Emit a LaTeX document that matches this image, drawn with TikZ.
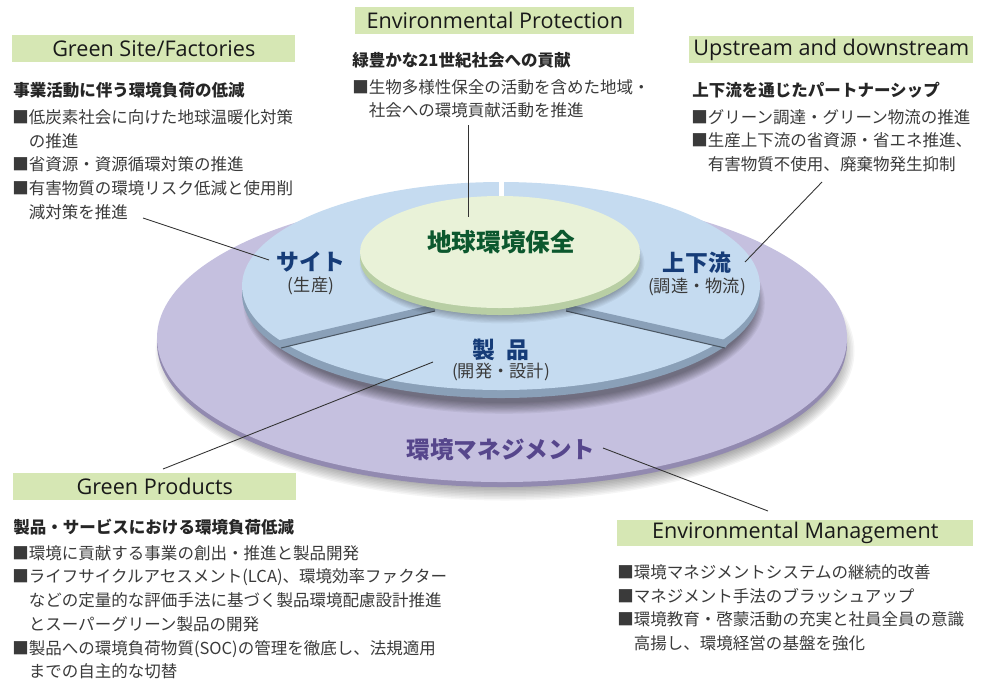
\documentclass[tikz,border=0pt]{standalone}
\usepackage{fontspec}
\setmainfont{Noto Sans CJK JP}
\newfontfamily\enfont{Open Sans}
\definecolor{headgreen}{RGB}{214,231,180}
\definecolor{mgmttop}{RGB}{197,192,223}
\definecolor{mgmtside}{RGB}{146,138,176}
\definecolor{ringtop}{RGB}{197,219,240}
\definecolor{ringside}{RGB}{138,160,184}
\definecolor{coretop}{RGB}{233,242,216}
\definecolor{coreside}{RGB}{184,206,164}
\definecolor{navytext}{RGB}{22,60,120}
\definecolor{greentext}{RGB}{12,88,46}
\definecolor{purpletext}{RGB}{86,70,140}
\definecolor{bodygray}{RGB}{58,58,58}

\begin{document}
\begin{tikzpicture}[x=0.02cm,y=-0.02cm,
  headbox/.style={fill=headgreen,inner sep=0pt,minimum height=0.54cm,anchor=north west,font=\enfont\fontsize{12.3}{14}\selectfont,text=black!90},
  lead/.style={font=\bfseries\fontsize{9.4}{12}\selectfont,anchor=west,inner sep=0pt,text=black!85},
  items/.style={font=\fontsize{9.4}{13.5}\selectfont,align=left,anchor=north west,inner sep=0pt,text=bodygray},
  disklabel/.style={font=\bfseries\fontsize{13}{15}\selectfont,text=navytext,inner sep=0pt},
  disksub/.style={font=\fontsize{9.8}{11}\selectfont,text=bodygray,inner sep=0pt},
  leader/.style={black!80,line width=0.5pt}]
  \useasboundingbox (0,0) rectangle (983,684);

  % management disk: shadow, side, top
  \foreach \s in {0,...,9}
    \fill[black,opacity=0.04] (505,351) ellipse [x radius=336+\s*1.5, y radius=136+\s*1.5];
  \fill[mgmtside] (502,343) ellipse [x radius=345, y radius=144];
  \fill[mgmttop]  (502,338) ellipse [x radius=345, y radius=144];

  % ring of three segments
  \foreach \s in {0,...,9}
    \fill[black,opacity=0.05] (504,303) ellipse [x radius=250+\s*1.2, y radius=100+\s*1.2];
  \fill[ringside] (501,294) ellipse [x radius=259, y radius=104];
  \fill[ringtop]  (501,286) ellipse [x radius=259, y radius=104];
  % cuts between the segments
  \fill[ringside] (276,341) -- (435,304) -- (435,311) -- (281,348) -- cycle;
  \draw[ringside!55!black,line width=0.6pt] (281,348) -- (435,311);
  \fill[ringside] (566,304) -- (730,341) -- (725,348) -- (566,311) -- cycle;
  \draw[ringside!55!black,line width=0.6pt] (725,348) -- (566,311);
  \fill[white] (499,180) rectangle (504,198);

  % core disk
  \foreach \s in {0,...,7}
    \fill[black,opacity=0.045] (502,263) ellipse [x radius=134+\s*1.2, y radius=52+\s*1.2];
  \fill[coreside] (500,259) ellipse [x radius=140, y radius=56];
  \fill[coretop]  (500,252) ellipse [x radius=140, y radius=56];

  % labels on the disks
  \node[disklabel,font=\bfseries\fontsize{14}{16}\selectfont,text=greentext] (core) at (501,242) {地球環境保全};
  \node[disklabel] (site) at (311,262) {サイト};
  \node[disksub] (sitesub) at (311,286) {(生産)};
  \node[disklabel] (updown) at (697,263) {上下流};
  \node[disksub] (updownsub) at (697,287) {(調達・物流)};
  \node[disklabel] (product) at (501,350) {製\hspace{0.5em}品};
  \node[disksub] (productsub) at (501,372) {(開発・設計)};
  \node[disklabel,font=\bfseries\fontsize{13.4}{15}\selectfont,text=purpletext] (mgmt) at (501,450) {環境マネジメント};

  % Green Site/Factories
  \node[headbox,minimum width=5.66cm] (sitehead) at (12,35) {Green Site/Factories};
  \node[lead] (sitelead) at (13,90) {事業活動に伴う環境負荷の低減};
  \node[items] (siteitems) at (12,109) {■低炭素社会に向けた地球温暖化対策\\\hphantom{■}の推進\\■省資源・資源循環対策の推進\\■有害物質の環境リスク低減と使用削\\\hphantom{■}減対策を推進};

  % Environmental Protection
  \node[headbox,minimum width=5.58cm] (prothead) at (355,7) {Environmental Protection};
  \node[lead] (protlead) at (352,60) {緑豊かな21世紀社会への貢献};
  \node[items] (protitems) at (352,79) {■生物多様性保全の活動を含めた地域・\\\hphantom{■}社会への環境貢献活動を推進};

  % Upstream and downstream
  \node[headbox,minimum width=5.68cm] (uphead) at (689,36) {Upstream and downstream};
  \node[lead] (uplead) at (692,90) {上下流を通じたパートナーシップ};
  \node[items] (upitems) at (691,109) {■グリーン調達・グリーン物流の推進\\■生産上下流の省資源・省エネ推進、\\\hphantom{■}有害物質不使用、廃棄物発生抑制};

  % Green Products
  \node[headbox,minimum width=5.66cm] (gphead) at (13,473) {Green Products};
  \node[lead] (gplead) at (13,527) {製品・サービスにおける環境負荷低減};
  \node[items] (gpitems) at (12,545) {■環境に貢献する事業の創出・推進と製品開発\\■ライフサイクルアセスメント(LCA)、環境効率ファクター\\\hphantom{■}などの定量的な評価手法に基づく製品環境配慮設計推進\\\hphantom{■}とスーパーグリーン製品の開発\\■製品への環境負荷物質(SOC)の管理を徹底し、法規適用\\\hphantom{■}までの自主的な切替};

  % Environmental Management
  \node[headbox,minimum width=7.12cm,minimum height=0.52cm] (emhead) at (617,520) {Environmental Management};
  \node[items] (emitems) at (617,564) {■環境マネジメントシステムの継続的改善\\■マネジメント手法のブラッシュアップ\\■環境教育・啓蒙活動の充実と社員全員の意識\\\hphantom{■}高揚し、環境経営の基盤を強化};

  % leader lines
  \coordinate (sitetail) at (143,218);
  \coordinate (sitepin) at (269,260);
  \coordinate (prottail) at (468,125);
  \coordinate (protpin) at (468,217);
  \coordinate (uptail) at (822,182);
  \coordinate (uppin) at (745,262);
  \coordinate (gptail) at (163,469);
  \coordinate (gppin) at (433,362);
  \coordinate (empin) at (603,448);
  \coordinate (emtail) at (768,511);
  \draw[leader] (sitetail) -- (sitepin);
  \draw[leader] (prottail) -- (protpin);
  \draw[leader] (uptail) -- (uppin);
  \draw[leader] (gptail) -- (gppin);
  \draw[leader] (empin) -- (emtail);
\end{tikzpicture}
\end{document}
